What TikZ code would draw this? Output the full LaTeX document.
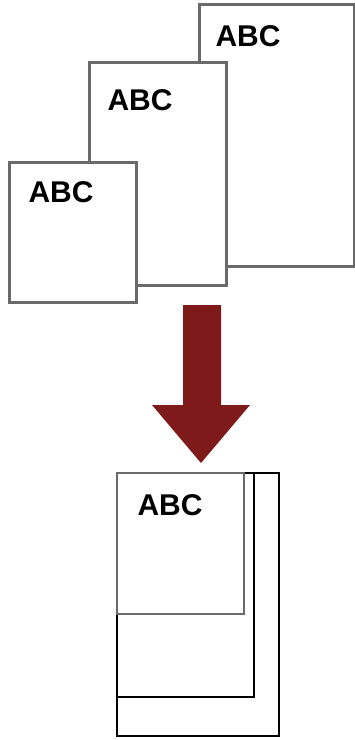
\documentclass[tikz,border=0pt]{standalone}
\usepackage{fontspec}
\setmainfont{Liberation Sans}
\definecolor{darkred}{HTML}{7F1A1A}
\definecolor{pgray}{HTML}{6A6A6A}
\begin{document}
\begin{tikzpicture}[x=1pt,y=-1pt,
  page/.style={draw=pgray,line width=3pt,fill=white},
  pagek/.style={draw=black,line width=2pt},
  lbl/.style={font=\fontsize{30}{30}\selectfont\bfseries,inner sep=0pt}]
\useasboundingbox (0,0) rectangle (355,740);
% top pages
\draw[page] (199,4) rectangle (354,266);
\node[lbl] (t3) at (248,36) {ABC};
\draw[page] (89,62) rectangle (226,285);
\node[lbl] (t2) at (140,100) {ABC};
\draw[page] (9,162) rectangle (136,302);
\node[lbl] (t1) at (61,192) {ABC};
% arrow
\fill[darkred] (183,305) -- (221,305) -- (221,405) -- (250,405) -- (201,463) -- (152,405) -- (183,405) -- cycle;
% bottom stack
\draw[pagek] (117,473) rectangle (279,736);
\draw[pagek] (117,473) rectangle (254,697);
\draw[page,line width=2.4pt] (117,473) rectangle (244,614);
\node[lbl] (tb) at (170,505) {ABC};
\end{tikzpicture}
\end{document}
